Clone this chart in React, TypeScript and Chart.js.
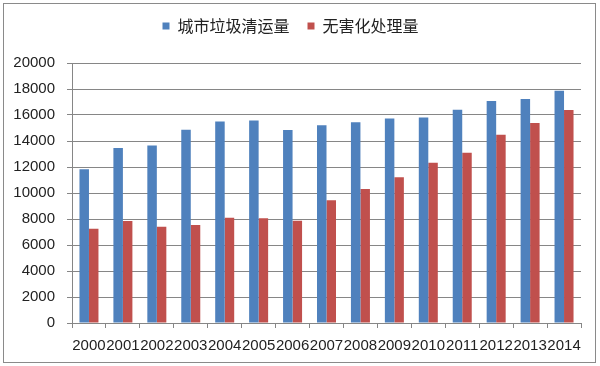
import React, { useEffect, useRef } from "react";
import { Chart, registerables } from "chart.js";

Chart.register(...registerables);

const years = ["2000","2001","2002","2003","2004","2005","2006","2007","2008","2009","2010","2011","2012","2013","2014"];
const collected = [11819,13470,13650,14857,15509,15577,14841,15215,15438,15734,15805,16395,17081,17239,17860];
const treated = [7255,7840,7404,7545,8089,8051,7873,9438,10307,11220,12318,13090,14490,15394,16394];
const seriesNames = ["城市垃圾清运量", "无害化处理量"];
const yTicksMax = 20000;
const yStep = 2000;

const borderPlugin = {
  id: "outerBorder",
  beforeDraw(chart: any) {
    const ctx = chart.ctx;
    ctx.save();
    ctx.fillStyle = "#ffffff";
    ctx.fillRect(0, 0, chart.width, chart.height);
    ctx.strokeStyle = "#8a8a8a";
    ctx.lineWidth = 1;
    ctx.strokeRect(3.5, 3.5, 592, 359);
    ctx.restore();
  },
};

const legendHeightPlugin = {
  id: "legendHeight",
  beforeUpdate(chart: any) {
    const lg = chart.legend;
    if (lg && !lg.__patched) {
      const orig = lg.fit;
      lg.fit = function () {
        orig.call(this);
        this.height = 63;
      };
      lg.__patched = true;
    }
  },
};

export default function App() {
  const ref = useRef<HTMLCanvasElement>(null);
  useEffect(() => {
    document.body.style.margin = "0";
    const chart = new Chart(ref.current!, {
      type: "bar",
      data: {
        labels: years,
        datasets: [
          { label: seriesNames[0], data: collected, backgroundColor: "#4F81BD", borderWidth: 0 },
          { label: seriesNames[1], data: treated, backgroundColor: "#C0504D", borderWidth: 0 },
        ],
      },
      options: {
        animation: false,
        responsive: false,
        devicePixelRatio: 1,
        layout: { padding: { left: 0, right: 19, top: 0, bottom: 0 } },
        datasets: { bar: { categoryPercentage: 0.56, barPercentage: 1 } },
        plugins: {
          legend: {
            position: "top",
            align: "center",
            labels: {
              boxWidth: 7,
              boxHeight: 7,
              padding: 18,
              color: "#222",
              font: { family: "'Noto Sans CJK SC', sans-serif", size: 16 },
            },
          },
          tooltip: { enabled: false },
        },
        scales: {
          x: {
            grid: { drawOnChartArea: false, drawTicks: true, tickLength: 5, color: "#868686", offset: true },
            border: { color: "#868686" },
            ticks: {
              color: "#222",
              padding: 9,
              maxRotation: 0,
              autoSkip: false,
              font: { family: "'Liberation Sans', Arial, sans-serif", size: 15 },
            },
            afterFit(scale: any) { scale.height = 43; },
          },
          y: {
            min: 0,
            max: yTicksMax,
            ticks: {
              stepSize: yStep,
              color: "#222",
              padding: 12,
              font: { family: "'Liberation Sans', Arial, sans-serif", size: 15 },
              callback: (v: any) => String(v),
            },
            grid: { color: "#868686", tickLength: 5 },
            border: { color: "#868686" },
            afterFit(scale: any) { scale.width = 72; },
          },
        },
      },
      plugins: [borderPlugin, legendHeightPlugin],
    });
    return () => chart.destroy();
  }, []);
  return (
    <div style={{ position: "absolute", left: 0, top: 0, width: 600, height: 366 }}>
      <canvas ref={ref} width={600} height={366} style={{ width: 600, height: 366 }} />
    </div>
  );
}
